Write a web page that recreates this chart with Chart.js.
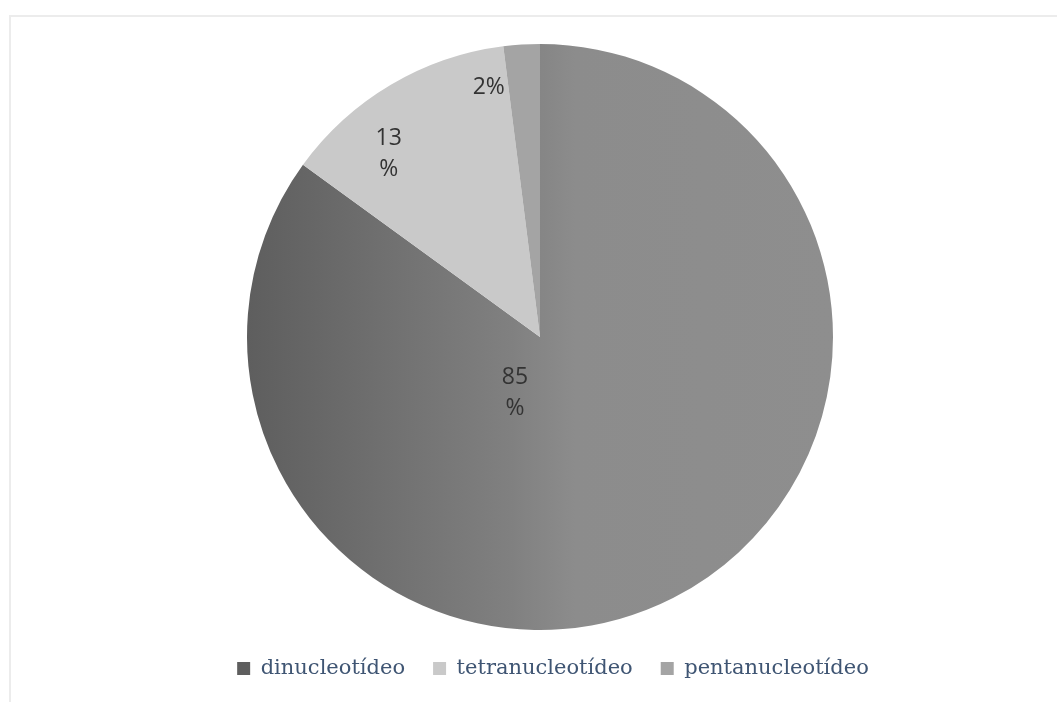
<!DOCTYPE html>
<html>
<head>
<meta charset="utf-8">
<script src="https://cdn.jsdelivr.net/npm/chart.js@4.4.1/dist/chart.umd.min.js"></script>
<style>
    html, body { margin: 0; padding: 0; background: #fff; }
    #wrap { position: relative; width: 1057px; height: 702px; }
    #frame { position: absolute; left: 9px; top: 15px; right: -5px; bottom: -5px;
             border-left: 2px solid #ececec; border-top: 2px solid #ececec; }
    canvas { position: absolute; left: 0; top: 0; }
</style>
</head>
<body>
<div id="wrap">
    <div id="frame"></div>
    <canvas id="pie-chart" width="1057" height="702"></canvas>
</div>
<script>
    // data
    var categories = ["dinucleotídeo", "tetranucleotídeo", "pentanucleotídeo"];
    var shares = [85, 13, 2];
    var pctLabels = [["85", "%"], ["13", "%"], ["2%"]];

    // where each percentage sits: angle shift (deg) from slice middle, fraction of radius
    var labelPlacement = [
        { shift: 51, frac: 0.21 },
        { shift: -9, frac: 0.81 },
        { shift: -8, frac: 0.87 }
    ];

    var flatColors = [null, "#c9c9c9", "#a4a4a4"];

    function sliceFill(context) {
        var i = context.dataIndex;
        if (i !== 0) return flatColors[i];
        var chart = context.chart;
        var area = chart.chartArea;
        if (!area) return "#7a7a7a";
        var cx = (area.left + area.right) / 2;
        var r = (area.bottom - area.top) / 2;
        var g = chart.ctx.createLinearGradient(cx - r, 0, cx + r, 0);
        g.addColorStop(0, "#5e5e5e");
        g.addColorStop(0.45, "#808080");
        g.addColorStop(0.56, "#8c8c8c");
        g.addColorStop(1, "#8e8e8e");
        return g;
    }

    // legend sits a little right of the pie in the original
    var legendNudge = {
        id: "legendNudge",
        afterLayout: function (chart) {
            if (chart.legend) {
                chart.legend.left += 13;
                chart.legend.right += 13;
            }
        }
    };

    var pctPlugin = {
        id: "pctLabels",
        afterDatasetsDraw: function (chart) {
            var ctx = chart.ctx;
            var meta = chart.getDatasetMeta(0);
            ctx.save();
            ctx.font = "23px 'Open Sans', 'Noto Sans', sans-serif";
            ctx.fillStyle = "#333333";
            ctx.textAlign = "center";
            ctx.textBaseline = "middle";
            meta.data.forEach(function (arc, i) {
                var p = arc.getProps(["x", "y", "startAngle", "endAngle", "outerRadius"], true);
                var mid = (p.startAngle + p.endAngle) / 2 + labelPlacement[i].shift * Math.PI / 180;
                var rr = p.outerRadius * labelPlacement[i].frac;
                var lx = p.x + Math.cos(mid) * rr;
                var ly = p.y + Math.sin(mid) * rr;
                var lines = pctLabels[i];
                var lh = 31;
                var y0 = ly - (lines.length - 1) * lh / 2;
                lines.forEach(function (t, k) {
                    ctx.fillText(t, lx, y0 + k * lh);
                });
            });
            ctx.restore();
        }
    };

    var ctx = document.getElementById("pie-chart").getContext("2d");
    var myChart = new Chart(ctx, {
        type: "pie",
        data: {
            labels: categories,
            datasets: [{
                data: shares,
                backgroundColor: sliceFill,
                borderWidth: 0
            }]
        },
        options: {
            responsive: false,
            animation: false,
            layout: {
                padding: { top: 44, bottom: 13, left: 23, right: 0 }
            },
            plugins: {
                legend: {
                    position: "bottom",
                    labels: {
                        boxWidth: 13,
                        boxHeight: 13,
                        padding: 28,
                        color: "#3f5573",
                        font: { family: "'DejaVu Serif', 'Liberation Serif', serif", size: 21 }
                    }
                },
                tooltip: { enabled: false }
            }
        },
        plugins: [pctPlugin, legendNudge]
    });
</script>
</body>
</html>
